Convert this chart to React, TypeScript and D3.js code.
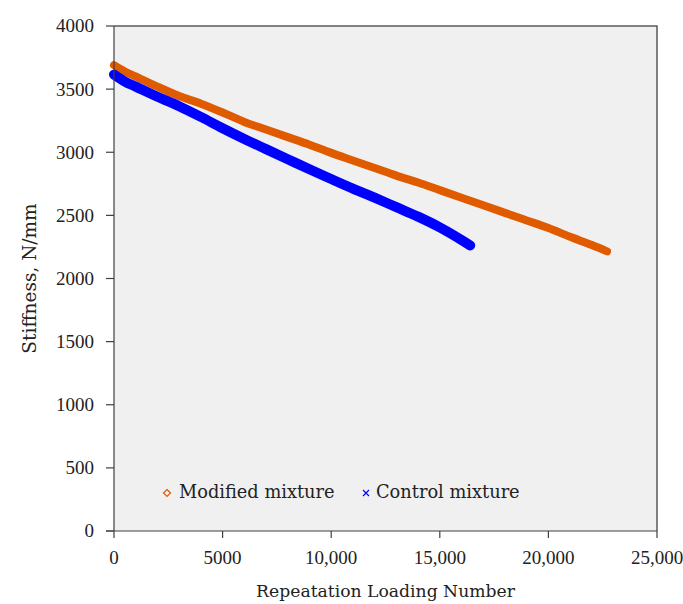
import React from 'react';
import * as d3 from 'd3';

const modifiedX = [0, 500, 1000, 1500, 2000, 3000, 4000, 5000, 6000, 7000, 8000, 9000, 10000, 11000, 12000, 13000, 14000, 15000, 16000, 17000, 18000, 19000, 20000, 21000, 22000, 22700];
const modifiedY = [3690, 3640, 3600, 3560, 3520, 3445, 3385, 3315, 3240, 3180, 3120, 3060, 2995, 2935, 2875, 2815, 2760, 2700, 2640, 2580, 2520, 2460, 2400, 2330, 2265, 2215];

const controlX = [0, 500, 1000, 2000, 3000, 4000, 5000, 6000, 7000, 8000, 9000, 10000, 11000, 12000, 13000, 14000, 15000, 16000, 16400];
const controlY = [3615, 3560, 3520, 3440, 3365, 3280, 3190, 3105, 3025, 2945, 2865, 2788, 2712, 2640, 2565, 2490, 2405, 2305, 2262];

const xTicks = [0, 5000, 10000, 15000, 20000, 25000];
const yTicks = [0, 500, 1000, 1500, 2000, 2500, 3000, 3500, 4000];

const W = 683;
const H = 604;
const FONT = "'DejaVu Serif', 'Liberation Serif', serif";
const TICK_FONT = "'Liberation Serif', 'DejaVu Serif', serif";

const App = () => {
  const x = d3.scaleLinear().domain([0, 25000]).range([114, 657]);
  const y = d3.scaleLinear().domain([0, 4000]).range([531, 26]);

  const modified = modifiedX.map((v, i) => [v, modifiedY[i]] as [number, number]);
  const control = controlX.map((v, i) => [v, controlY[i]] as [number, number]);

  const line = d3.line<[number, number]>()
    .x(d => x(d[0]))
    .y(d => y(d[1]))
    .curve(d3.curveMonotoneX);

  const xFmt = (v: number) => (v >= 10000 ? d3.format(',')(v) : String(v));

  return (
    <svg width={W} height={H} style={{ position: 'absolute', left: 0, top: 0, background: '#fff' }}>
      {/* plot area */}
      <rect x={x(0)} y={y(4000)} width={x(25000) - x(0)} height={y(0) - y(4000)} fill="#f0f0f0" />
      <path d={`M${x(0)},${y(4000)}H${x(25000)}V${y(0)}`} fill="none" stroke="#5a5a5a" strokeWidth={1.5} />

      {/* series */}
      <path d={line(modified) || ''} fill="none" stroke="#e05a00" strokeWidth={8} strokeLinecap="round" strokeLinejoin="round" />
      <path d={line(control) || ''} fill="none" stroke="#0000ff" strokeWidth={10} strokeLinecap="round" strokeLinejoin="round" />

      {/* y axis */}
      <line x1={x(0)} x2={x(0)} y1={y(0)} y2={y(4000)} stroke="#404040" strokeWidth={1.2} />
      {yTicks.map(t => (
        <g key={t}>
          <line x1={x(0) - 8} x2={x(0)} y1={y(t)} y2={y(t)} stroke="#404040" strokeWidth={1.2} />
          <text x={94} y={y(t)} dy="0.34em" textAnchor="end" fontFamily={TICK_FONT} fontSize={19} fill="#222">{t}</text>
        </g>
      ))}

      {/* x axis */}
      <line x1={x(0) - 8} x2={x(25000)} y1={y(0)} y2={y(0)} stroke="#404040" strokeWidth={1.2} />
      {xTicks.map(t => (
        <g key={t}>
          <line x1={x(t)} x2={x(t)} y1={y(0)} y2={y(0) + 7} stroke="#404040" strokeWidth={1.2} />
          <text x={x(t)} y={564} textAnchor="middle" fontFamily={TICK_FONT} fontSize={19} fill="#222">{xFmt(t)}</text>
        </g>
      ))}

      {/* titles */}
      <text x={(x(0) + x(25000)) / 2} y={597} textAnchor="middle" fontFamily={FONT} fontSize={17.2} fill="#222">Repeatation Loading Number</text>
      <text transform={`translate(36,${(y(0) + y(4000)) / 2}) rotate(-90)`} textAnchor="middle" fontFamily={FONT} fontSize={18.5} fill="#222">Stiffness, N/mm</text>

      {/* legend */}
      <g>
        <path d="M167,489.5L170.5,493L167,496.5L163.5,493Z" fill="none" stroke="#e05a00" strokeWidth={1.2} />
        <text x={179} y={498} fontFamily={FONT} fontSize={17.8} fill="#222">Modified mixture</text>
        <path d="M363,490L369,496M369,490L363,496" stroke="#0000ff" strokeWidth={1.2} />
        <text x={376} y={498} fontFamily={FONT} fontSize={17.8} fill="#222">Control mixture</text>
      </g>
    </svg>
  );
};

export default App;
